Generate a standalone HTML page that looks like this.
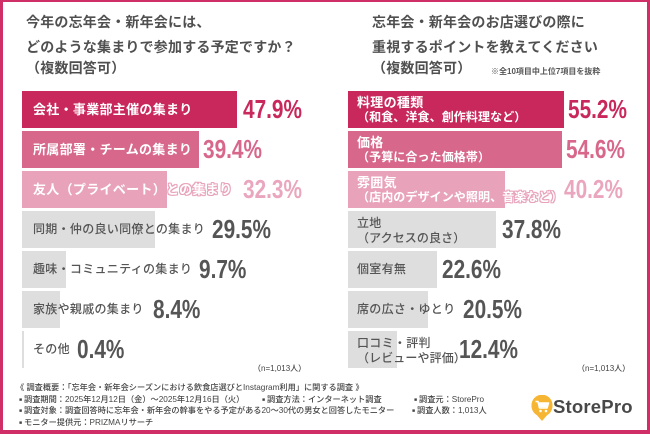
<!DOCTYPE html>
<html><head><meta charset="utf-8">
<style>
*{margin:0;padding:0;box-sizing:border-box}
html,body{width:650px;height:434px;overflow:hidden;background:#fff}
body{position:relative;font-family:"Liberation Sans","Noto Sans CJK JP",sans-serif;color:#555}
.frame{position:absolute;left:0;top:0;width:650px;height:434px;border-style:solid;border-color:#cf2e66;border-width:2px 3px 4px 3px}
.t{position:absolute;white-space:nowrap;font-weight:700;font-size:14px;letter-spacing:0.2px;line-height:20px;color:#505050}
.bar{position:absolute;height:37px}
.c1{background:#c8285b}.c2{background:#d7678b}.c3{background:#e8a3bb}.g{background:#dedede}
.lab{position:absolute;white-space:nowrap;line-height:37px;height:37px}
.lw{color:#fff;font-weight:700;font-size:13px;letter-spacing:0.3px}
.lg{color:#555;font-weight:500;font-size:12px;letter-spacing:0.3px}
.two{position:absolute;white-space:nowrap}
.two div{line-height:15px;height:15px}
.l1{font-size:13px;letter-spacing:0.3px}
.l2{font-size:12px;letter-spacing:0.1px}
.out{color:#fff;text-shadow:1px 0 #e8a3bb,-1px 0 #e8a3bb,0 1px #e8a3bb,0 -1px #e8a3bb,1px 1px #e8a3bb,-1px -1px #e8a3bb,1px -1px #e8a3bb,-1px 1px #e8a3bb}
.p{position:absolute;white-space:nowrap;font-family:"Liberation Sans",sans-serif;font-weight:700;font-size:26px;line-height:37px;height:37px;transform:scaleX(0.8);transform-origin:0 50%}
.pc1{color:#c8285b}.pc2{color:#d7678b}.pc3{color:#eaa6be}.pg{color:#555}
.n{position:absolute;font-size:8px;line-height:10px;color:#444;white-space:nowrap;font-weight:500}
.f{position:absolute;left:16px;font-size:8.2px;line-height:11px;color:#444;white-space:nowrap;font-weight:500}
.sq{font-size:5px;vertical-align:1px;margin-right:2px}
</style></head><body>
<div class="frame"></div>

<div class="t" style="left:26px;top:12px">今年の忘年会・新年会には、</div>
<div class="t" style="left:26px;top:37px">どのような集まりで参加する予定ですか？</div>
<div class="t" style="left:26px;top:58px">（複数回答可）</div>

<div class="t" style="left:372px;top:12px">忘年会・新年会のお店選びの際に</div>
<div class="t" style="left:372px;top:37px">重視するポイントを教えてください</div>
<div class="t" style="left:372px;top:58px">（複数回答可）</div>
<div class="t" style="left:491px;top:66px;font-size:8px;line-height:11px;letter-spacing:0;color:#555">※全10項目中上位7項目を抜粋</div>

<div class="bar c1" style="left:22px;top:91px;width:215px"></div>
<div class="bar c2" style="left:22px;top:131px;width:177px"></div>
<div class="bar c3" style="left:22px;top:171px;width:145px"></div>
<div class="bar g" style="left:22px;top:211px;width:133px"></div>
<div class="bar g" style="left:22px;top:251px;width:44px"></div>
<div class="bar g" style="left:22px;top:291px;width:38px"></div>
<div class="bar g" style="left:22px;top:331px;width:2px"></div>

<div class="lab lw" style="left:33px;top:91px">会社・事業部主催の集まり</div>
<div class="lab lw" style="left:33px;top:131px">所属部署・チームの集まり</div>
<div class="lab lw" style="left:33px;top:171px">友人（プライベート）<span class="out">との集まり</span></div>
<div class="lab lg" style="left:33px;top:211px">同期・仲の良い同僚との集まり</div>
<div class="lab lg" style="left:33px;top:251px">趣味・コミュニティの集まり</div>
<div class="lab lg" style="left:33px;top:291px">家族や親戚の集まり</div>
<div class="lab lg" style="left:33px;top:331px">その他</div>

<div class="p pc1" style="left:243px;top:91px">47.9%</div>
<div class="p pc2" style="left:203px;top:131px">39.4%</div>
<div class="p pc3" style="left:243px;top:171px">32.3%</div>
<div class="p pg" style="left:212px;top:211px">29.5%</div>
<div class="p pg" style="left:199px;top:251px">9.7%</div>
<div class="p pg" style="left:153px;top:291px">8.4%</div>
<div class="p pg" style="left:77px;top:331px">0.4%</div>

<div class="n" style="left:253px;top:364px">（n=1,013人）</div>

<div class="bar c1" style="left:348px;top:91px;width:216px"></div>
<div class="bar c2" style="left:348px;top:131px;width:214px"></div>
<div class="bar c3" style="left:348px;top:171px;width:157px"></div>
<div class="bar g" style="left:348px;top:211px;width:148px"></div>
<div class="bar g" style="left:348px;top:251px;width:89px"></div>
<div class="bar g" style="left:348px;top:291px;width:80px"></div>
<div class="bar g" style="left:348px;top:331px;width:49px"></div>

<div class="two" style="left:357px;top:95px;color:#fff;font-weight:700"><div class="l1">料理の種類</div><div class="l2">（和食、洋食、創作料理など）</div></div>
<div class="two" style="left:357px;top:135px;color:#fff;font-weight:700"><div class="l1">価格</div><div class="l2">（予算に合った価格帯）</div></div>
<div class="two" style="left:357px;top:175px;color:#fff;font-weight:700"><div class="l1">雰囲気</div><div class="l2">（店内のデザインや照明、<span class="out">音楽など）</span></div></div>
<div class="two" style="left:357px;top:216px;color:#555;font-weight:500"><div class="l1" style="font-size:12px">立地</div><div class="l2">（アクセスの良さ）</div></div>
<div class="lab lg" style="left:357px;top:251px">個室有無</div>
<div class="lab lg" style="left:357px;top:291px">席の広さ・ゆとり</div>
<div class="two" style="left:357px;top:336px;color:#555;font-weight:500"><div class="l1" style="font-size:12px">口コミ・評判</div><div class="l2">（レビューや評価）</div></div>

<div class="p pc1" style="left:568px;top:91px">55.2%</div>
<div class="p pc2" style="left:566px;top:131px">54.6%</div>
<div class="p pc3" style="left:564px;top:171px">40.2%</div>
<div class="p pg" style="left:502px;top:211px">37.8%</div>
<div class="p pg" style="left:442px;top:251px">22.6%</div>
<div class="p pg" style="left:463px;top:291px">20.5%</div>
<div class="p pg" style="left:459px;top:331px">12.4%</div>

<div class="n" style="left:577px;top:364px">（n=1,013人）</div>

<div class="f" style="top:382px">《 調査概要：「忘年会・新年会シーズンにおける飲食店選びとInstagram利用」に関する調査 》</div>
<div class="f" style="left:19px;top:394px"><span class="sq">■</span>調査期間：2025年12月12日（金）～2025年12月16日（火）</div>
<div class="f" style="left:262px;top:394px"><span class="sq">■</span>調査方法：インターネット調査</div>
<div class="f" style="left:414px;top:394px"><span class="sq">■</span>調査元：StorePro</div>
<div class="f" style="left:19px;top:405px"><span class="sq">■</span>調査対象：調査回答時に忘年会・新年会の幹事をやる予定がある20～30代の男女と回答したモニター</div>
<div class="f" style="left:412px;top:405px"><span class="sq">■</span>調査人数：1,013人</div>
<div class="f" style="left:19px;top:417px"><span class="sq">■</span>モニター提供元：PRIZMAリサーチ</div>

<svg style="position:absolute;left:530px;top:395px" width="24" height="27" viewBox="0 0 24 27">
  <path d="M12 26 L5 18 A10.5 10.5 0 1 1 19 18 Z" fill="#f6b634"/>
  <circle cx="12" cy="11" r="10.5" fill="#f6b634"/>
  <path d="M5.5 6.5 H8 L9.5 13 H17 L18.5 8 H9" fill="none" stroke="#fff" stroke-width="1.6" stroke-linejoin="round"/>
  <rect x="9" y="8.3" width="9" height="4" fill="#fff"/>
  <circle cx="10.5" cy="16" r="1.3" fill="#fff"/>
  <circle cx="16" cy="16" r="1.3" fill="#fff"/>
</svg>
<div style="position:absolute;left:553px;top:396px;font-family:'Liberation Sans',sans-serif;font-weight:700;font-size:18.5px;line-height:22px;color:#484848;letter-spacing:0.2px">StorePro</div>
</body></html>
